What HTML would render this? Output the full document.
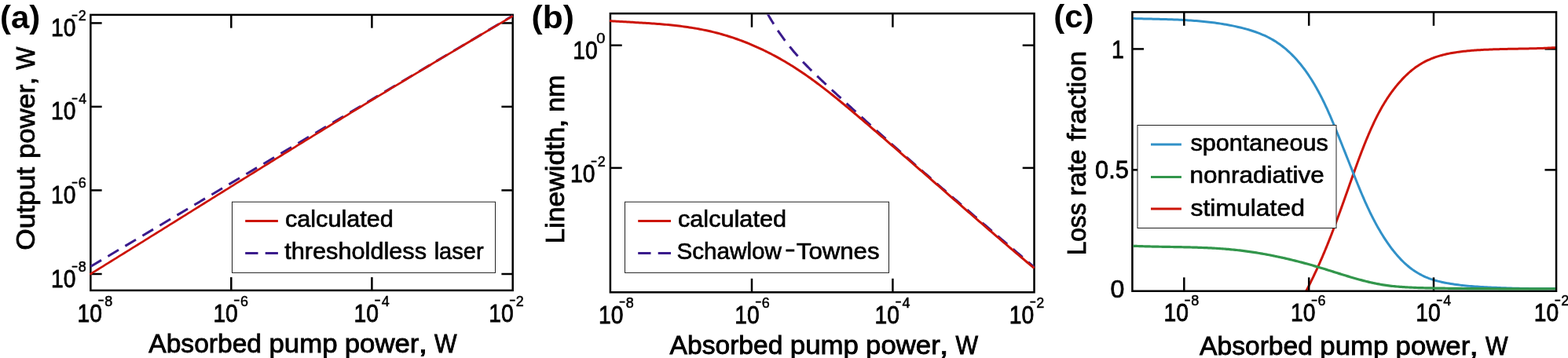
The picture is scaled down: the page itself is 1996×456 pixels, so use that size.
<!DOCTYPE html>
<html lang="en">
<head>
<meta charset="utf-8">
<title>Laser characteristics</title>
<style>
html,body{margin:0;padding:0;background:#fff;}
body{width:1996px;height:456px;overflow:hidden;}
svg{display:block;}
text{font-family:"Liberation Sans",sans-serif;fill:#000;}
</style>
</head>
<body>
<svg width="1996" height="456" viewBox="0 0 1996 456">
<rect x="0" y="0" width="1996" height="456" fill="#fff"/>
<clipPath id="ca"><rect x="114.10" y="17.65" width="539.85" height="353.50"/></clipPath>
<rect x="115.35" y="18.90" width="537.35" height="351.00" fill="none" stroke="#000" stroke-width="2.5"/>
<line x1="294.30" y1="369.90" x2="294.30" y2="353.10" stroke="#000" stroke-width="2.5" />
<line x1="294.30" y1="18.90" x2="294.30" y2="35.70" stroke="#000" stroke-width="2.5" />
<line x1="473.40" y1="369.90" x2="473.40" y2="353.10" stroke="#000" stroke-width="2.5" />
<line x1="473.40" y1="18.90" x2="473.40" y2="35.70" stroke="#000" stroke-width="2.5" />
<line x1="115.35" y1="29.40" x2="129.65" y2="29.40" stroke="#000" stroke-width="2.5" />
<line x1="652.70" y1="29.40" x2="638.40" y2="29.40" stroke="#000" stroke-width="2.5" />
<line x1="115.35" y1="135.90" x2="129.65" y2="135.90" stroke="#000" stroke-width="2.5" />
<line x1="652.70" y1="135.90" x2="638.40" y2="135.90" stroke="#000" stroke-width="2.5" />
<line x1="115.35" y1="242.40" x2="129.65" y2="242.40" stroke="#000" stroke-width="2.5" />
<line x1="652.70" y1="242.40" x2="638.40" y2="242.40" stroke="#000" stroke-width="2.5" />
<line x1="115.35" y1="349.00" x2="129.65" y2="349.00" stroke="#000" stroke-width="2.5" />
<line x1="652.70" y1="349.00" x2="638.40" y2="349.00" stroke="#000" stroke-width="2.5" />
<path d="M115.35,339.50 L652.70,20.10" fill="none" stroke="#3a1b8c" stroke-width="3.0" stroke-linejoin="round" stroke-dasharray="15.9 9.7" clip-path="url(#ca)" />
<path d="M114.35,349.51 L117.74,347.42 L121.12,345.33 L124.51,343.24 L127.89,341.14 L131.28,339.05 L134.67,336.95 L138.05,334.86 L141.44,332.76 L144.82,330.67 L148.21,328.57 L151.59,326.47 L154.98,324.37 L158.37,322.27 L161.75,320.16 L165.14,318.06 L168.52,315.96 L171.91,313.85 L175.30,311.75 L178.68,309.64 L182.07,307.54 L185.45,305.43 L188.84,303.32 L192.22,301.22 L195.61,299.11 L199.00,297.00 L202.38,294.89 L205.77,292.78 L209.15,290.67 L212.54,288.56 L215.93,286.45 L219.31,284.34 L222.70,282.23 L226.08,280.12 L229.47,278.01 L232.85,275.90 L236.24,273.79 L239.63,271.68 L243.01,269.57 L246.40,267.45 L249.78,265.34 L253.17,263.23 L256.56,261.12 L259.94,259.01 L263.33,256.90 L266.71,254.79 L270.10,252.68 L273.48,250.57 L276.87,248.46 L280.26,246.35 L283.64,244.24 L287.03,242.14 L290.41,240.03 L293.80,237.92 L297.19,235.82 L300.57,233.71 L303.96,231.60 L307.34,229.50 L310.73,227.40 L314.12,225.29 L317.50,223.19 L320.89,221.09 L324.27,218.99 L327.66,216.89 L331.04,214.79 L334.43,212.69 L337.82,210.59 L341.20,208.49 L344.59,206.39 L347.97,204.30 L351.36,202.20 L354.75,200.11 L358.13,198.01 L361.52,195.92 L364.90,193.83 L368.29,191.74 L371.67,189.65 L375.06,187.56 L378.45,185.47 L381.83,183.39 L385.22,181.30 L388.60,179.22 L391.99,177.13 L395.38,175.05 L398.76,172.97 L402.15,170.89 L405.53,168.81 L408.92,166.74 L412.30,164.66 L415.69,162.59 L419.08,160.51 L422.46,158.44 L425.85,156.37 L429.23,154.30 L432.62,152.23 L436.01,150.16 L439.39,148.10 L442.78,146.03 L446.16,143.97 L449.55,141.91 L452.93,139.85 L456.32,137.79 L459.71,135.74 L463.09,133.68 L466.48,131.63 L469.86,129.58 L473.25,127.52 L476.64,125.48 L480.02,123.43 L483.41,121.38 L486.79,119.34 L490.18,117.29 L493.57,115.25 L496.95,113.21 L500.34,111.17 L503.72,109.13 L507.11,107.09 L510.49,105.06 L513.88,103.02 L517.27,100.99 L520.65,98.95 L524.04,96.92 L527.42,94.89 L530.81,92.86 L534.20,90.84 L537.58,88.81 L540.97,86.78 L544.35,84.76 L547.74,82.73 L551.12,80.71 L554.51,78.69 L557.90,76.67 L561.28,74.65 L564.67,72.63 L568.05,70.61 L571.44,68.60 L574.83,66.58 L578.21,64.57 L581.60,62.55 L584.98,60.54 L588.37,58.53 L591.75,56.52 L595.14,54.50 L598.53,52.49 L601.91,50.49 L605.30,48.48 L608.68,46.47 L612.07,44.46 L615.46,42.46 L618.84,40.45 L622.23,38.45 L625.61,36.44 L629.00,34.44 L632.38,32.44 L635.77,30.44 L639.16,28.43 L642.54,26.43 L645.93,24.43 L649.31,22.43 L652.70,20.43" fill="none" stroke="#cc1408" stroke-width="2.7" stroke-linejoin="round" clip-path="url(#ca)" />
<rect x="295.50" y="257.20" width="335.00" height="90.20" fill="#fff" stroke="#222" stroke-width="1"/>
<line x1="312.20" y1="281.50" x2="353.90" y2="281.50" stroke="#cc1408" stroke-width="3.0" />
<line x1="312.20" y1="322.60" x2="353.90" y2="322.60" stroke="#3a1b8c" stroke-width="3.0" stroke-dasharray="16.3 9.2"/>
<clipPath id="cb"><rect x="775.65" y="18.45" width="542.10" height="355.10"/></clipPath>
<rect x="776.90" y="17.20" width="539.60" height="355.10" fill="none" stroke="#000" stroke-width="2.5"/>
<line x1="957.00" y1="372.30" x2="957.00" y2="354.80" stroke="#000" stroke-width="2.5" />
<line x1="957.00" y1="17.20" x2="957.00" y2="34.70" stroke="#000" stroke-width="2.5" />
<line x1="1136.40" y1="372.30" x2="1136.40" y2="354.80" stroke="#000" stroke-width="2.5" />
<line x1="1136.40" y1="17.20" x2="1136.40" y2="34.70" stroke="#000" stroke-width="2.5" />
<line x1="776.90" y1="57.70" x2="791.70" y2="57.70" stroke="#000" stroke-width="2.5" />
<line x1="1316.50" y1="57.70" x2="1301.70" y2="57.70" stroke="#000" stroke-width="2.5" />
<line x1="776.90" y1="213.90" x2="791.70" y2="213.90" stroke="#000" stroke-width="2.5" />
<line x1="1316.50" y1="213.90" x2="1301.70" y2="213.90" stroke="#000" stroke-width="2.5" />
<path d="M976.80,16.94 L978.22,19.46 L979.64,21.94 L981.06,24.37 L982.49,26.74 L983.91,29.07 L985.33,31.36 L986.75,33.60 L988.17,35.80 L989.59,37.95 L991.01,40.07 L992.43,42.15 L993.86,44.19 L995.28,46.19 L996.70,48.16 L998.12,50.09 L999.54,52.00 L1000.96,53.87 L1002.38,55.71 L1003.81,57.52 L1005.23,59.30 L1006.65,61.06 L1008.07,62.80 L1009.49,64.50 L1010.91,66.19 L1012.33,67.85 L1013.75,69.49 L1015.18,71.11 L1016.60,72.71 L1018.02,74.29 L1019.44,75.84 L1020.86,77.38 L1022.28,78.91 L1023.70,80.41 L1025.13,81.90 L1026.55,83.38 L1027.97,84.83 L1029.39,86.28 L1030.81,87.71 L1032.23,89.13 L1033.65,90.54 L1035.07,91.94 L1036.50,93.32 L1037.92,94.70 L1039.34,96.07 L1040.76,97.43 L1042.18,98.78 L1043.60,100.13 L1045.02,101.47 L1046.45,102.81 L1047.87,104.14 L1049.29,105.47 L1050.71,106.80 L1052.13,108.13 L1053.55,109.45 L1054.97,110.77 L1056.39,112.09 L1057.82,113.41 L1059.24,114.73 L1060.66,116.05 L1062.08,117.37 L1063.50,118.68 L1064.92,119.99 L1066.34,121.31 L1067.77,122.62 L1069.19,123.93 L1070.61,125.24 L1072.03,126.54 L1073.45,127.85 L1074.87,129.16 L1076.29,130.46 L1077.72,131.76 L1079.14,133.06 L1080.56,134.36 L1081.98,135.66 L1083.40,136.96 L1084.82,138.26 L1086.24,139.55 L1087.66,140.85 L1089.09,142.14 L1090.51,143.44 L1091.93,144.73 L1093.35,146.02 L1094.77,147.31 L1096.19,148.59 L1097.61,149.88 L1099.04,151.17 L1100.46,152.45 L1101.88,153.74 L1103.30,155.02 L1104.72,156.30 L1106.14,157.58 L1107.56,158.86 L1108.98,160.14 L1110.41,161.42 L1111.83,162.70 L1113.25,163.97 L1114.67,165.25 L1116.09,166.52 L1117.51,167.79 L1118.93,169.07 L1120.36,170.34 L1121.78,171.61 L1123.20,172.88 L1124.62,174.15 L1126.04,175.41 L1127.46,176.68 L1128.88,177.95 L1130.30,179.21 L1131.73,180.48 L1133.15,181.74 L1134.57,183.00 L1135.99,184.26 L1137.41,185.52 L1138.83,186.78 L1140.25,188.04 L1141.68,189.30 L1143.10,190.56 L1144.52,191.81 L1145.94,193.07 L1147.36,194.32 L1148.78,195.58 L1150.20,196.83 L1151.62,198.08 L1153.05,199.34 L1154.47,200.59 L1155.89,201.84 L1157.31,203.09 L1158.73,204.33 L1160.15,205.58 L1161.57,206.83 L1163.00,208.08 L1164.42,209.32 L1165.84,210.57 L1167.26,211.81 L1168.68,213.06 L1170.10,214.30 L1171.52,215.54 L1172.94,216.79 L1174.37,218.03 L1175.79,219.27 L1177.21,220.51 L1178.63,221.75 L1180.05,222.99 L1181.47,224.22 L1182.89,225.46 L1184.32,226.70 L1185.74,227.94 L1187.16,229.17 L1188.58,230.41 L1190.00,231.64 L1191.42,232.88 L1192.84,234.11 L1194.26,235.34 L1195.69,236.58 L1197.11,237.81 L1198.53,239.04 L1199.95,240.27 L1201.37,241.50 L1202.79,242.73 L1204.21,243.96 L1205.64,245.19 L1207.06,246.42 L1208.48,247.65 L1209.90,248.88 L1211.32,250.10 L1212.74,251.33 L1214.16,252.56 L1215.58,253.78 L1217.01,255.01 L1218.43,256.23 L1219.85,257.46 L1221.27,258.68 L1222.69,259.91 L1224.11,261.13 L1225.53,262.36 L1226.96,263.58 L1228.38,264.80 L1229.80,266.02 L1231.22,267.25 L1232.64,268.47 L1234.06,269.69 L1235.48,270.91 L1236.91,272.13 L1238.33,273.35 L1239.75,274.57 L1241.17,275.79 L1242.59,277.01 L1244.01,278.23 L1245.43,279.45 L1246.85,280.67 L1248.28,281.89 L1249.70,283.11 L1251.12,284.33 L1252.54,285.55 L1253.96,286.76 L1255.38,287.98 L1256.80,289.20 L1258.23,290.42 L1259.65,291.64 L1261.07,292.85 L1262.49,294.07 L1263.91,295.29 L1265.33,296.50 L1266.75,297.72 L1268.17,298.94 L1269.60,300.15 L1271.02,301.37 L1272.44,302.59 L1273.86,303.80 L1275.28,305.02 L1276.70,306.23 L1278.12,307.45 L1279.55,308.67 L1280.97,309.88 L1282.39,311.10 L1283.81,312.31 L1285.23,313.53 L1286.65,314.74 L1288.07,315.96 L1289.49,317.18 L1290.92,318.39 L1292.34,319.61 L1293.76,320.82 L1295.18,322.04 L1296.60,323.25 L1298.02,324.47 L1299.44,325.69 L1300.87,326.90 L1302.29,328.12 L1303.71,329.33 L1305.13,330.55 L1306.55,331.77 L1307.97,332.98 L1309.39,334.20 L1310.81,335.42 L1312.24,336.63 L1313.66,337.85 L1315.08,339.07 L1316.50,340.28" fill="none" stroke="#3a1b8c" stroke-width="3.0" stroke-linejoin="round" stroke-dasharray="15.9 9.7" clip-path="url(#cb)" />
<path d="M775.90,26.60 L778.16,26.75 L780.42,26.90 L782.69,27.04 L784.95,27.18 L787.21,27.32 L789.47,27.46 L791.73,27.59 L794.00,27.72 L796.26,27.85 L798.52,27.98 L800.78,28.11 L803.04,28.24 L805.31,28.37 L807.57,28.50 L809.83,28.63 L812.09,28.77 L814.35,28.90 L816.61,29.04 L818.88,29.18 L821.14,29.32 L823.40,29.46 L825.66,29.61 L827.92,29.76 L830.19,29.92 L832.45,30.08 L834.71,30.25 L836.97,30.42 L839.23,30.60 L841.50,30.78 L843.76,30.97 L846.02,31.17 L848.28,31.38 L850.54,31.59 L852.81,31.81 L855.07,32.05 L857.33,32.29 L859.59,32.53 L861.85,32.79 L864.12,33.06 L866.38,33.34 L868.64,33.63 L870.90,33.93 L873.16,34.25 L875.42,34.57 L877.69,34.91 L879.95,35.26 L882.21,35.62 L884.47,36.00 L886.73,36.39 L889.00,36.80 L891.26,37.22 L893.52,37.65 L895.78,38.10 L898.04,38.57 L900.31,39.05 L902.57,39.55 L904.83,40.07 L907.09,40.60 L909.35,41.16 L911.62,41.73 L913.88,42.32 L916.14,42.92 L918.40,43.55 L920.66,44.19 L922.93,44.85 L925.19,45.54 L927.45,46.23 L929.71,46.95 L931.97,47.69 L934.23,48.45 L936.50,49.22 L938.76,50.02 L941.02,50.83 L943.28,51.66 L945.54,52.51 L947.81,53.38 L950.07,54.27 L952.33,55.18 L954.59,56.11 L956.85,57.06 L959.12,58.03 L961.38,59.01 L963.64,60.02 L965.90,61.05 L968.16,62.09 L970.43,63.16 L972.69,64.24 L974.95,65.35 L977.21,66.47 L979.47,67.62 L981.74,68.78 L984.00,69.97 L986.26,71.17 L988.52,72.40 L990.78,73.64 L993.04,74.91 L995.31,76.20 L997.57,77.50 L999.83,78.83 L1002.09,80.18 L1004.35,81.55 L1006.62,82.93 L1008.88,84.34 L1011.14,85.77 L1013.40,87.23 L1015.66,88.70 L1017.93,90.19 L1020.19,91.70 L1022.45,93.24 L1024.71,94.79 L1026.97,96.37 L1029.24,97.96 L1031.50,99.58 L1033.76,101.21 L1036.02,102.86 L1038.28,104.52 L1040.55,106.21 L1042.81,107.91 L1045.07,109.62 L1047.33,111.35 L1049.59,113.10 L1051.85,114.86 L1054.12,116.63 L1056.38,118.42 L1058.64,120.22 L1060.90,122.03 L1063.16,123.85 L1065.43,125.68 L1067.69,127.52 L1069.95,129.38 L1072.21,131.24 L1074.47,133.11 L1076.74,134.99 L1079.00,136.87 L1081.26,138.77 L1083.52,140.67 L1085.78,142.57 L1088.05,144.48 L1090.31,146.40 L1092.57,148.32 L1094.83,150.25 L1097.09,152.17 L1099.36,154.11 L1101.62,156.04 L1103.88,157.97 L1106.14,159.91 L1108.40,161.85 L1110.66,163.79 L1112.93,165.74 L1115.19,167.68 L1117.45,169.63 L1119.71,171.58 L1121.97,173.53 L1124.24,175.48 L1126.50,177.43 L1128.76,179.39 L1131.02,181.34 L1133.28,183.30 L1135.55,185.26 L1137.81,187.22 L1140.07,189.18 L1142.33,191.15 L1144.59,193.11 L1146.86,195.08 L1149.12,197.04 L1151.38,199.01 L1153.64,200.98 L1155.90,202.95 L1158.17,204.92 L1160.43,206.89 L1162.69,208.86 L1164.95,210.83 L1167.21,212.80 L1169.47,214.77 L1171.74,216.75 L1174.00,218.72 L1176.26,220.69 L1178.52,222.67 L1180.78,224.64 L1183.05,226.62 L1185.31,228.59 L1187.57,230.57 L1189.83,232.54 L1192.09,234.52 L1194.36,236.49 L1196.62,238.47 L1198.88,240.44 L1201.14,242.42 L1203.40,244.39 L1205.67,246.37 L1207.93,248.34 L1210.19,250.31 L1212.45,252.29 L1214.71,254.26 L1216.98,256.23 L1219.24,258.20 L1221.50,260.17 L1223.76,262.14 L1226.02,264.11 L1228.28,266.08 L1230.55,268.04 L1232.81,270.01 L1235.07,271.98 L1237.33,273.94 L1239.59,275.90 L1241.86,277.86 L1244.12,279.82 L1246.38,281.78 L1248.64,283.74 L1250.90,285.70 L1253.17,287.65 L1255.43,289.60 L1257.69,291.56 L1259.95,293.51 L1262.21,295.45 L1264.48,297.40 L1266.74,299.35 L1269.00,301.29 L1271.26,303.23 L1273.52,305.17 L1275.79,307.11 L1278.05,309.04 L1280.31,310.98 L1282.57,312.91 L1284.83,314.84 L1287.09,316.76 L1289.36,318.69 L1291.62,320.61 L1293.88,322.53 L1296.14,324.44 L1298.40,326.36 L1300.67,328.27 L1302.93,330.18 L1305.19,332.09 L1307.45,333.99 L1309.71,335.89 L1311.98,337.79 L1314.24,339.68 L1316.50,341.58" fill="none" stroke="#cc1408" stroke-width="3.0" stroke-linejoin="round" clip-path="url(#cb)" />
<rect x="795.50" y="257.20" width="336.00" height="90.20" fill="#fff" stroke="#222" stroke-width="1"/>
<line x1="812.20" y1="281.50" x2="854.00" y2="281.50" stroke="#cc1408" stroke-width="3.0" />
<line x1="812.20" y1="322.60" x2="854.00" y2="322.60" stroke="#3a1b8c" stroke-width="3.0" stroke-dasharray="16.3 9.2"/>
<clipPath id="cc"><rect x="1442.45" y="15.40" width="537.55" height="356.60"/></clipPath>
<line x1="1981.05" y1="62.40" x2="1966.45" y2="62.40" stroke="#000" stroke-width="2.5" />
<line x1="1981.05" y1="216.40" x2="1966.45" y2="216.40" stroke="#000" stroke-width="2.5" />
<path d="M1660.34,375.08 L1661.16,373.55 L1661.98,372.02 L1662.79,370.48 L1663.59,368.95 L1664.39,367.42 L1665.18,365.88 L1665.96,364.35 L1666.74,362.81 L1667.51,361.27 L1668.28,359.74 L1669.04,358.20 L1669.80,356.66 L1670.55,355.12 L1671.29,353.58 L1672.03,352.04 L1672.77,350.50 L1673.50,348.96 L1674.22,347.42 L1674.94,345.87 L1675.66,344.33 L1676.37,342.78 L1677.07,341.24 L1677.77,339.69 L1678.47,338.15 L1679.16,336.60 L1679.85,335.05 L1680.53,333.50 L1681.21,331.95 L1681.89,330.40 L1682.56,328.85 L1683.23,327.29 L1683.89,325.74 L1684.55,324.18 L1685.21,322.63 L1685.86,321.07 L1686.51,319.52 L1687.16,317.96 L1687.80,316.40 L1688.44,314.84 L1689.08,313.28 L1689.71,311.72 L1690.34,310.15 L1690.97,308.59 L1691.59,307.02 L1692.21,305.46 L1692.83,303.89 L1693.45,302.33 L1694.06,300.76 L1694.67,299.19 L1695.28,297.62 L1695.89,296.04 L1696.49,294.47 L1697.09,292.90 L1697.69,291.32 L1698.29,289.75 L1698.89,288.17 L1699.48,286.59 L1700.07,285.01 L1700.66,283.43 L1701.25,281.85 L1701.84,280.27 L1702.42,278.69 L1703.00,277.10 L1703.59,275.52 L1704.17,273.93 L1704.75,272.34 L1705.33,270.75 L1705.90,269.16 L1706.48,267.57 L1707.05,265.98 L1707.63,264.38 L1708.20,262.79 L1708.78,261.19 L1709.35,259.59 L1709.92,257.99 L1710.49,256.39 L1711.06,254.79 L1711.63,253.19 L1712.20,251.58 L1712.77,249.98 L1713.34,248.37 L1713.91,246.76 L1714.48,245.16 L1715.05,243.54 L1715.62,241.93 L1716.19,240.32 L1716.76,238.70 L1717.33,237.09 L1717.90,235.47 L1718.47,233.85 L1719.04,232.23 L1719.62,230.62 L1720.19,228.99 L1720.77,227.37 L1721.34,225.75 L1721.92,224.13 L1722.50,222.51 L1723.08,220.89 L1723.66,219.27 L1724.24,217.64 L1724.82,216.02 L1725.41,214.40 L1726.00,212.78 L1726.59,211.16 L1727.18,209.54 L1727.77,207.92 L1728.37,206.30 L1728.96,204.69 L1729.56,203.07 L1730.17,201.46 L1730.77,199.84 L1731.38,198.23 L1731.99,196.62 L1732.60,195.02 L1733.22,193.41 L1733.84,191.81 L1734.46,190.20 L1735.09,188.60 L1735.72,187.01 L1736.35,185.41 L1736.98,183.82 L1737.62,182.23 L1738.26,180.64 L1738.91,179.05 L1739.56,177.47 L1740.22,175.89 L1740.87,174.32 L1741.54,172.75 L1742.20,171.18 L1742.87,169.61 L1743.55,168.05 L1744.23,166.50 L1744.92,164.94 L1745.61,163.39 L1746.30,161.85 L1747.01,160.30 L1747.71,158.77 L1748.43,157.24 L1749.15,155.71 L1749.88,154.18 L1750.61,152.67 L1751.36,151.15 L1752.11,149.64 L1752.86,148.14 L1753.63,146.64 L1754.41,145.15 L1755.19,143.66 L1755.98,142.18 L1756.78,140.70 L1757.59,139.23 L1758.41,137.77 L1759.24,136.31 L1760.08,134.86 L1760.93,133.41 L1761.79,131.97 L1762.66,130.54 L1763.54,129.11 L1764.44,127.69 L1765.34,126.28 L1766.26,124.87 L1767.18,123.48 L1768.13,122.08 L1769.08,120.70 L1770.04,119.32 L1771.02,117.95 L1772.02,116.59 L1773.02,115.24 L1774.04,113.89 L1775.07,112.55 L1776.12,111.22 L1777.18,109.90 L1778.26,108.59 L1779.35,107.28 L1780.46,105.99 L1781.58,104.70 L1782.72,103.42 L1783.87,102.15 L1785.04,100.89 L1786.22,99.65 L1787.42,98.42 L1788.64,97.20 L1789.87,96.00 L1791.12,94.82 L1792.38,93.65 L1793.65,92.50 L1794.95,91.37 L1796.25,90.27 L1797.57,89.19 L1798.91,88.12 L1800.26,87.09 L1801.63,86.08 L1803.01,85.09 L1804.41,84.14 L1805.82,83.20 L1807.24,82.30 L1808.68,81.42 L1810.13,80.56 L1811.60,79.74 L1813.08,78.94 L1814.57,78.17 L1816.07,77.42 L1817.58,76.70 L1819.11,76.01 L1820.65,75.35 L1822.20,74.71 L1823.76,74.10 L1825.32,73.51 L1826.90,72.94 L1828.49,72.40 L1830.09,71.88 L1831.70,71.38 L1833.31,70.90 L1834.94,70.45 L1836.57,70.01 L1838.21,69.60 L1839.85,69.20 L1841.50,68.82 L1843.16,68.46 L1844.83,68.12 L1846.50,67.79 L1848.18,67.48 L1849.86,67.19 L1851.55,66.91 L1853.24,66.65 L1854.93,66.39 L1856.63,66.16 L1858.33,65.93 L1860.04,65.72 L1861.75,65.51 L1863.46,65.32 L1865.17,65.14 L1866.88,64.97 L1868.60,64.81 L1870.32,64.65 L1872.03,64.51 L1873.75,64.37 L1875.47,64.23 L1877.19,64.11 L1878.90,63.99 L1880.62,63.87 L1882.33,63.76 L1884.05,63.66 L1885.76,63.56 L1887.48,63.46 L1889.19,63.37 L1890.91,63.29 L1892.62,63.21 L1894.33,63.13 L1896.04,63.06 L1897.75,62.99 L1899.46,62.92 L1901.17,62.86 L1902.88,62.80 L1904.59,62.75 L1906.30,62.69 L1908.01,62.64 L1909.72,62.60 L1911.42,62.55 L1913.13,62.51 L1914.83,62.47 L1916.54,62.43 L1918.24,62.39 L1919.95,62.36 L1921.65,62.32 L1923.35,62.29 L1925.06,62.26 L1926.76,62.22 L1928.46,62.19 L1930.16,62.16 L1931.86,62.13 L1933.56,62.10 L1935.26,62.07 L1936.95,62.04 L1938.65,62.01 L1940.35,61.98 L1942.04,61.95 L1943.74,61.92 L1945.43,61.88 L1947.13,61.85 L1948.82,61.81 L1950.51,61.77 L1952.20,61.73 L1953.89,61.69 L1955.58,61.64 L1957.27,61.60 L1958.96,61.55 L1960.65,61.49 L1962.34,61.44 L1964.03,61.38 L1965.71,61.32 L1967.40,61.26 L1969.08,61.19 L1970.77,61.11 L1972.45,61.04 L1974.13,60.96 L1975.81,60.87 L1977.50,60.79 L1979.18,60.69 L1980.86,60.59" fill="none" stroke="#cc1408" stroke-width="3.0" stroke-linejoin="round" clip-path="url(#cc)" />
<path d="M1441.38,23.51 L1443.79,23.58 L1446.21,23.64 L1448.62,23.71 L1451.03,23.76 L1453.44,23.82 L1455.85,23.88 L1458.26,23.93 L1460.66,23.99 L1463.07,24.04 L1465.47,24.10 L1467.88,24.15 L1470.28,24.21 L1472.68,24.26 L1475.08,24.32 L1477.48,24.39 L1479.87,24.45 L1482.27,24.52 L1484.66,24.59 L1487.06,24.66 L1489.45,24.74 L1491.84,24.83 L1494.23,24.92 L1496.62,25.01 L1499.01,25.12 L1501.40,25.23 L1503.79,25.34 L1506.18,25.46 L1508.56,25.59 L1510.95,25.73 L1513.33,25.88 L1515.71,26.04 L1518.10,26.20 L1520.48,26.38 L1522.86,26.57 L1525.24,26.76 L1527.62,26.97 L1530.00,27.19 L1532.38,27.43 L1534.76,27.67 L1537.14,27.93 L1539.51,28.20 L1541.89,28.49 L1544.27,28.79 L1546.64,29.10 L1549.02,29.43 L1551.39,29.77 L1553.77,30.13 L1556.14,30.51 L1558.51,30.90 L1560.89,31.31 L1563.26,31.74 L1565.63,32.19 L1568.00,32.65 L1570.38,33.14 L1572.75,33.64 L1575.12,34.16 L1577.48,34.71 L1579.85,35.28 L1582.20,35.87 L1584.55,36.48 L1586.89,37.13 L1589.22,37.80 L1591.55,38.49 L1593.85,39.22 L1596.15,39.98 L1598.43,40.77 L1600.69,41.59 L1602.94,42.44 L1605.17,43.33 L1607.37,44.26 L1609.56,45.22 L1611.72,46.23 L1613.86,47.27 L1615.98,48.35 L1618.06,49.47 L1620.12,50.63 L1622.15,51.84 L1624.15,53.09 L1626.12,54.39 L1628.06,55.72 L1629.98,57.09 L1631.86,58.51 L1633.72,59.96 L1635.55,61.45 L1637.36,62.97 L1639.13,64.53 L1640.89,66.12 L1642.61,67.74 L1644.31,69.40 L1645.98,71.09 L1647.63,72.81 L1649.26,74.56 L1650.85,76.33 L1652.43,78.14 L1653.98,79.97 L1655.51,81.82 L1657.01,83.70 L1658.49,85.61 L1659.95,87.53 L1661.39,89.48 L1662.80,91.45 L1664.19,93.43 L1665.56,95.44 L1666.91,97.46 L1668.24,99.50 L1669.55,101.56 L1670.83,103.63 L1672.10,105.71 L1673.35,107.81 L1674.58,109.91 L1675.79,112.03 L1676.98,114.16 L1678.15,116.30 L1679.30,118.45 L1680.44,120.60 L1681.56,122.76 L1682.66,124.92 L1683.74,127.09 L1684.81,129.26 L1685.86,131.43 L1686.90,133.61 L1687.92,135.79 L1688.93,137.97 L1689.92,140.15 L1690.91,142.34 L1691.88,144.53 L1692.84,146.72 L1693.79,148.91 L1694.73,151.11 L1695.67,153.31 L1696.59,155.50 L1697.51,157.71 L1698.42,159.91 L1699.33,162.11 L1700.23,164.32 L1701.13,166.53 L1702.03,168.74 L1702.92,170.95 L1703.81,173.17 L1704.71,175.38 L1705.59,177.60 L1706.48,179.81 L1707.37,182.03 L1708.26,184.25 L1709.15,186.47 L1710.03,188.70 L1710.92,190.92 L1711.80,193.14 L1712.69,195.37 L1713.57,197.59 L1714.46,199.82 L1715.34,202.04 L1716.22,204.27 L1717.11,206.50 L1717.99,208.73 L1718.87,210.96 L1719.76,213.18 L1720.64,215.41 L1721.53,217.64 L1722.41,219.87 L1723.30,222.10 L1724.18,224.33 L1725.07,226.56 L1725.96,228.78 L1726.86,231.01 L1727.75,233.23 L1728.66,235.46 L1729.56,237.68 L1730.47,239.90 L1731.39,242.11 L1732.31,244.32 L1733.24,246.53 L1734.18,248.74 L1735.13,250.94 L1736.08,253.14 L1737.04,255.34 L1738.01,257.53 L1738.99,259.72 L1739.98,261.90 L1740.99,264.07 L1742.00,266.24 L1743.03,268.41 L1744.06,270.57 L1745.11,272.72 L1746.18,274.87 L1747.26,277.01 L1748.35,279.15 L1749.46,281.27 L1750.58,283.39 L1751.72,285.50 L1752.88,287.61 L1754.05,289.70 L1755.25,291.79 L1756.46,293.87 L1757.68,295.94 L1758.93,298.00 L1760.20,300.05 L1761.49,302.09 L1762.80,304.12 L1764.13,306.14 L1765.48,308.15 L1766.86,310.15 L1768.26,312.14 L1769.68,314.11 L1771.12,316.06 L1772.60,317.99 L1774.09,319.91 L1775.62,321.80 L1777.17,323.66 L1778.74,325.50 L1780.35,327.31 L1781.98,329.09 L1783.65,330.84 L1785.34,332.55 L1787.06,334.22 L1788.82,335.86 L1790.60,337.45 L1792.42,339.00 L1794.27,340.51 L1796.15,341.97 L1798.07,343.38 L1800.03,344.74 L1802.01,346.05 L1804.04,347.31 L1806.09,348.51 L1808.18,349.65 L1810.29,350.75 L1812.44,351.78 L1814.60,352.76 L1816.80,353.69 L1819.01,354.56 L1821.25,355.37 L1823.50,356.12 L1825.78,356.82 L1828.07,357.48 L1830.37,358.09 L1832.69,358.66 L1835.02,359.19 L1837.36,359.69 L1839.70,360.16 L1842.06,360.61 L1844.41,361.03 L1846.78,361.43 L1849.15,361.81 L1851.52,362.17 L1853.90,362.51 L1856.29,362.83 L1858.67,363.13 L1861.07,363.41 L1863.46,363.67 L1865.86,363.92 L1868.26,364.16 L1870.66,364.38 L1873.07,364.58 L1875.48,364.77 L1877.88,364.95 L1880.29,365.12 L1882.70,365.28 L1885.12,365.43 L1887.53,365.57 L1889.94,365.70 L1892.35,365.82 L1894.76,365.94 L1897.17,366.05 L1899.58,366.16 L1901.98,366.26 L1904.39,366.36 L1906.79,366.45 L1909.19,366.55 L1911.59,366.64 L1913.98,366.73 L1916.37,366.81 L1918.77,366.90 L1921.16,366.98 L1923.55,367.06 L1925.93,367.13 L1928.32,367.21 L1930.71,367.28 L1933.09,367.34 L1935.48,367.40 L1937.86,367.46 L1940.25,367.51 L1942.64,367.56 L1945.03,367.61 L1947.41,367.65 L1949.80,367.69 L1952.19,367.72 L1954.59,367.74 L1956.98,367.76 L1959.38,367.78 L1961.78,367.79 L1964.18,367.79 L1966.58,367.79 L1968.99,367.79 L1971.40,367.77 L1973.81,367.75 L1976.23,367.73 L1978.65,367.70 L1981.08,367.66" fill="none" stroke="#3191c8" stroke-width="3.0" stroke-linejoin="round" clip-path="url(#cc)" />
<rect x="1441.40" y="15.40" width="539.65" height="355.35" fill="none" stroke="#000" stroke-width="2.5"/>
<line x1="1507.30" y1="370.75" x2="1507.30" y2="353.35" stroke="#000" stroke-width="2.5" />
<line x1="1507.30" y1="15.40" x2="1507.30" y2="32.80" stroke="#000" stroke-width="2.5" />
<line x1="1666.20" y1="370.75" x2="1666.20" y2="353.35" stroke="#000" stroke-width="2.5" />
<line x1="1666.20" y1="15.40" x2="1666.20" y2="32.80" stroke="#000" stroke-width="2.5" />
<line x1="1825.00" y1="370.75" x2="1825.00" y2="353.35" stroke="#000" stroke-width="2.5" />
<line x1="1825.00" y1="15.40" x2="1825.00" y2="32.80" stroke="#000" stroke-width="2.5" />
<line x1="1441.40" y1="62.40" x2="1456.00" y2="62.40" stroke="#000" stroke-width="2.5" />
<line x1="1441.40" y1="216.40" x2="1456.00" y2="216.40" stroke="#000" stroke-width="2.5" />
<path d="M1441.23,313.20 L1443.07,313.28 L1444.91,313.36 L1446.75,313.43 L1448.59,313.50 L1450.43,313.57 L1452.27,313.63 L1454.11,313.69 L1455.95,313.75 L1457.79,313.80 L1459.63,313.86 L1461.46,313.91 L1463.30,313.95 L1465.14,314.00 L1466.97,314.04 L1468.81,314.08 L1470.64,314.12 L1472.48,314.16 L1474.31,314.20 L1476.15,314.23 L1477.98,314.27 L1479.81,314.30 L1481.64,314.33 L1483.48,314.37 L1485.31,314.40 L1487.14,314.43 L1488.97,314.46 L1490.80,314.49 L1492.63,314.52 L1494.46,314.55 L1496.28,314.59 L1498.11,314.62 L1499.94,314.65 L1501.77,314.69 L1503.59,314.72 L1505.42,314.76 L1507.24,314.79 L1509.07,314.83 L1510.89,314.87 L1512.72,314.92 L1514.54,314.96 L1516.36,315.01 L1518.18,315.06 L1520.01,315.11 L1521.83,315.16 L1523.65,315.22 L1525.47,315.28 L1527.29,315.34 L1529.10,315.41 L1530.92,315.48 L1532.74,315.55 L1534.56,315.62 L1536.37,315.70 L1538.19,315.79 L1540.01,315.88 L1541.82,315.97 L1543.64,316.07 L1545.45,316.17 L1547.26,316.27 L1549.08,316.38 L1550.89,316.50 L1552.70,316.62 L1554.51,316.75 L1556.32,316.88 L1558.13,317.02 L1559.94,317.16 L1561.75,317.31 L1563.56,317.46 L1565.36,317.62 L1567.17,317.79 L1568.98,317.97 L1570.78,318.15 L1572.59,318.34 L1574.39,318.53 L1576.19,318.73 L1578.00,318.94 L1579.80,319.15 L1581.60,319.37 L1583.40,319.60 L1585.20,319.84 L1587.00,320.08 L1588.80,320.33 L1590.60,320.58 L1592.40,320.84 L1594.20,321.11 L1595.99,321.38 L1597.79,321.66 L1599.59,321.94 L1601.38,322.24 L1603.17,322.53 L1604.97,322.84 L1606.76,323.15 L1608.55,323.46 L1610.35,323.79 L1612.14,324.11 L1613.93,324.45 L1615.72,324.79 L1617.50,325.13 L1619.29,325.49 L1621.08,325.84 L1622.87,326.21 L1624.65,326.58 L1626.44,326.95 L1628.22,327.33 L1630.01,327.72 L1631.79,328.11 L1633.57,328.51 L1635.36,328.91 L1637.14,329.32 L1638.92,329.73 L1640.70,330.15 L1642.48,330.58 L1644.26,331.01 L1646.03,331.44 L1647.81,331.88 L1649.59,332.33 L1651.36,332.78 L1653.14,333.24 L1654.91,333.70 L1656.68,334.16 L1658.46,334.64 L1660.23,335.11 L1662.00,335.59 L1663.77,336.08 L1665.54,336.57 L1667.31,337.07 L1669.08,337.57 L1670.84,338.08 L1672.61,338.59 L1674.38,339.10 L1676.14,339.62 L1677.91,340.15 L1679.67,340.68 L1681.43,341.21 L1683.20,341.75 L1684.96,342.29 L1686.72,342.83 L1688.48,343.38 L1690.24,343.93 L1692.00,344.48 L1693.76,345.03 L1695.52,345.58 L1697.27,346.14 L1699.03,346.69 L1700.79,347.24 L1702.55,347.80 L1704.31,348.35 L1706.06,348.90 L1707.82,349.44 L1709.58,349.99 L1711.33,350.53 L1713.09,351.07 L1714.85,351.60 L1716.61,352.14 L1718.36,352.66 L1720.12,353.18 L1721.88,353.70 L1723.64,354.21 L1725.40,354.71 L1727.16,355.21 L1728.92,355.70 L1730.68,356.18 L1732.44,356.66 L1734.20,357.12 L1735.96,357.58 L1737.72,358.03 L1739.49,358.47 L1741.25,358.90 L1743.02,359.32 L1744.78,359.73 L1746.55,360.12 L1748.32,360.51 L1750.09,360.88 L1751.86,361.24 L1753.63,361.59 L1755.40,361.92 L1757.17,362.24 L1758.95,362.55 L1760.72,362.84 L1762.50,363.11 L1764.28,363.38 L1766.06,363.62 L1767.84,363.86 L1769.62,364.08 L1771.40,364.29 L1773.19,364.49 L1774.98,364.67 L1776.76,364.85 L1778.55,365.01 L1780.35,365.17 L1782.14,365.31 L1783.94,365.45 L1785.73,365.57 L1787.53,365.69 L1789.33,365.80 L1791.14,365.91 L1792.94,366.01 L1794.75,366.10 L1796.56,366.18 L1798.37,366.26 L1800.18,366.34 L1802.00,366.41 L1803.82,366.48 L1805.64,366.54 L1807.46,366.60 L1809.29,366.66 L1811.11,366.71 L1812.94,366.76 L1814.77,366.81 L1816.60,366.85 L1818.43,366.89 L1820.26,366.93 L1822.09,366.97 L1823.93,367.00 L1825.76,367.04 L1827.60,367.07 L1829.43,367.10 L1831.27,367.12 L1833.10,367.15 L1834.94,367.17 L1836.78,367.20 L1838.61,367.22 L1840.45,367.24 L1842.29,367.27 L1844.12,367.29 L1845.96,367.31 L1847.79,367.33 L1849.63,367.35 L1851.46,367.37 L1853.30,367.39 L1855.13,367.41 L1856.96,367.43 L1858.80,367.45 L1860.63,367.47 L1862.46,367.48 L1864.30,367.50 L1866.13,367.52 L1867.96,367.53 L1869.79,367.55 L1871.62,367.56 L1873.45,367.58 L1875.29,367.59 L1877.12,367.61 L1878.95,367.62 L1880.78,367.63 L1882.61,367.65 L1884.44,367.66 L1886.27,367.67 L1888.09,367.68 L1889.92,367.69 L1891.75,367.70 L1893.58,367.71 L1895.41,367.72 L1897.23,367.73 L1899.06,367.74 L1900.89,367.75 L1902.72,367.76 L1904.54,367.76 L1906.37,367.77 L1908.19,367.78 L1910.02,367.79 L1911.85,367.79 L1913.67,367.80 L1915.49,367.80 L1917.32,367.81 L1919.14,367.81 L1920.97,367.81 L1922.79,367.82 L1924.61,367.82 L1926.44,367.82 L1928.26,367.83 L1930.08,367.83 L1931.90,367.83 L1933.73,367.83 L1935.55,367.83 L1937.37,367.83 L1939.19,367.83 L1941.01,367.83 L1942.83,367.83 L1944.65,367.83 L1946.47,367.83 L1948.29,367.83 L1950.11,367.82 L1951.93,367.82 L1953.75,367.82 L1955.57,367.81 L1957.38,367.81 L1959.20,367.81 L1961.02,367.80 L1962.84,367.80 L1964.65,367.79 L1966.47,367.78 L1968.29,367.78 L1970.10,367.77 L1971.92,367.76 L1973.73,367.76 L1975.55,367.75 L1977.36,367.74 L1979.18,367.73 L1980.99,367.73" fill="none" stroke="#32964b" stroke-width="3.2" stroke-linejoin="round" clip-path="url(#cc)" />
<rect x="1448.00" y="159.50" width="253.00" height="131.00" fill="#fff" stroke="#222" stroke-width="1"/>
<line x1="1465.00" y1="184.00" x2="1503.90" y2="184.00" stroke="#3191c8" stroke-width="3.0" />
<line x1="1465.00" y1="225.40" x2="1503.90" y2="225.40" stroke="#32964b" stroke-width="3.0" />
<line x1="1465.00" y1="266.00" x2="1503.90" y2="266.00" stroke="#cc1408" stroke-width="3.0" />
<text transform="translate(362.92,289.10) scale(1.0565,1)" font-size="29.0" stroke="#000" stroke-width="0.632">calculated</text>
<g><text transform="translate(362.16,330.20) scale(1.0588,1)" font-size="29.0" stroke="#000" stroke-width="0.631">thresholdless</text> <text transform="translate(552.67,330.20) scale(1.0003,1)" font-size="29.0" stroke="#000" stroke-width="0.650">laser</text></g>
<text transform="translate(-0.10,36.20) scale(1.0141,1)" font-size="41.4" font-weight="bold">(a)</text>
<g><text transform="translate(65.12,46.05) scale(0.8936,1)" font-size="31.6" stroke="#000" stroke-width="0.792">10</text><text transform="translate(90.80,24.59) scale(1.4107,1)" font-size="18.3" stroke="#000" stroke-width="0.415">-</text><text transform="translate(99.65,25.95) scale(0.9800,1)" font-size="18.3" stroke="#000" stroke-width="0.505">2</text></g>
<g><text transform="translate(65.12,152.00) scale(0.8936,1)" font-size="31.6" stroke="#000" stroke-width="0.792">10</text><text transform="translate(90.80,130.54) scale(1.4107,1)" font-size="18.3" stroke="#000" stroke-width="0.415">-</text><text transform="translate(100.14,131.90) scale(0.9800,1)" font-size="18.3" stroke="#000" stroke-width="0.505">4</text></g>
<g><text transform="translate(65.12,259.00) scale(0.8936,1)" font-size="31.6" stroke="#000" stroke-width="0.792">10</text><text transform="translate(90.80,237.54) scale(1.4107,1)" font-size="18.3" stroke="#000" stroke-width="0.415">-</text><text transform="translate(99.64,238.90) scale(0.9800,1)" font-size="18.3" stroke="#000" stroke-width="0.505">6</text></g>
<g><text transform="translate(65.12,366.00) scale(0.8936,1)" font-size="31.6" stroke="#000" stroke-width="0.792">10</text><text transform="translate(90.80,344.54) scale(1.4107,1)" font-size="18.3" stroke="#000" stroke-width="0.415">-</text><text transform="translate(99.77,345.90) scale(0.9800,1)" font-size="18.3" stroke="#000" stroke-width="0.505">8</text></g>
<g><text transform="translate(98.52,409.80) scale(0.8936,1)" font-size="31.6" stroke="#000" stroke-width="0.792">10</text><text transform="translate(124.20,388.34) scale(1.4107,1)" font-size="18.3" stroke="#000" stroke-width="0.415">-</text><text transform="translate(133.17,389.70) scale(0.9800,1)" font-size="18.3" stroke="#000" stroke-width="0.505">8</text></g>
<g><text transform="translate(271.42,409.80) scale(0.8936,1)" font-size="31.6" stroke="#000" stroke-width="0.792">10</text><text transform="translate(297.10,388.34) scale(1.4107,1)" font-size="18.3" stroke="#000" stroke-width="0.415">-</text><text transform="translate(305.94,389.70) scale(0.9800,1)" font-size="18.3" stroke="#000" stroke-width="0.505">6</text></g>
<g><text transform="translate(450.62,409.80) scale(0.8936,1)" font-size="31.6" stroke="#000" stroke-width="0.792">10</text><text transform="translate(476.30,388.34) scale(1.4107,1)" font-size="18.3" stroke="#000" stroke-width="0.415">-</text><text transform="translate(485.64,389.70) scale(0.9800,1)" font-size="18.3" stroke="#000" stroke-width="0.505">4</text></g>
<g><text transform="translate(622.32,409.80) scale(0.8936,1)" font-size="31.6" stroke="#000" stroke-width="0.792">10</text><text transform="translate(648.00,388.34) scale(1.4107,1)" font-size="18.3" stroke="#000" stroke-width="0.415">-</text><text transform="translate(656.85,389.70) scale(0.9800,1)" font-size="18.3" stroke="#000" stroke-width="0.505">2</text></g>
<g><text transform="translate(189.30,448.90) scale(0.9935,1)" font-size="33.8" stroke="#000" stroke-width="0.853">Absorbed</text> <text transform="translate(342.47,448.90) scale(1.0312,1)" font-size="33.8" stroke="#000" stroke-width="0.837">pump</text> <text transform="translate(438.78,448.90) scale(1.0282,1)" font-size="33.8" stroke="#000" stroke-width="0.838">power</text><text transform="translate(532.38,448.90) scale(1.2595,1)" font-size="33.8" stroke="#000" stroke-width="0.752">,</text> <text transform="translate(553.08,448.90) scale(0.8942,1)" font-size="33.8" stroke="#000" stroke-width="0.897">W</text></g>
<g><text transform="translate(43.80,318.65) rotate(-90) scale(1.0417,1)" font-size="33.8" stroke="#000" stroke-width="0.833">Output</text> <text transform="translate(43.80,202.12) rotate(-90) scale(1.0260,1)" font-size="33.8" stroke="#000" stroke-width="0.839">power</text><text transform="translate(43.80,108.53) rotate(-90) scale(1.1351,1)" font-size="33.8" stroke="#000" stroke-width="0.796">,</text> <text transform="translate(43.80,88.63) rotate(-90) scale(0.9132,1)" font-size="33.8" stroke="#000" stroke-width="0.889">W</text></g>
<text transform="translate(862.92,289.10) scale(1.0581,1)" font-size="29.0" stroke="#000" stroke-width="0.632">calculated</text>
<g><text transform="translate(861.45,330.20) scale(1.0231,1)" font-size="29.0" stroke="#000" stroke-width="0.643">Schawlow</text><text transform="translate(1000.73,327.06) scale(0.6360,1)" font-size="29.0" stroke="#000" stroke-width="0.795">–</text><text transform="translate(1013.82,330.20) scale(1.0756,1)" font-size="29.0" stroke="#000" stroke-width="0.626">Townes</text></g>
<text transform="translate(676.47,35.50) scale(1.0383,1)" font-size="41.0" font-weight="bold">(b)</text>
<g><text transform="translate(729.32,74.60) scale(0.8936,1)" font-size="31.6" stroke="#000" stroke-width="0.792">10</text><text transform="translate(759.36,54.50) scale(1.1000,1)" font-size="18.3" stroke="#000" stroke-width="0.476">0</text></g>
<g><text transform="translate(726.12,232.00) scale(0.8936,1)" font-size="31.6" stroke="#000" stroke-width="0.792">10</text><text transform="translate(751.80,210.54) scale(1.4107,1)" font-size="18.3" stroke="#000" stroke-width="0.415">-</text><text transform="translate(760.65,211.90) scale(0.9800,1)" font-size="18.3" stroke="#000" stroke-width="0.505">2</text></g>
<g><text transform="translate(762.02,411.60) scale(0.8936,1)" font-size="31.6" stroke="#000" stroke-width="0.792">10</text><text transform="translate(787.70,390.14) scale(1.4107,1)" font-size="18.3" stroke="#000" stroke-width="0.415">-</text><text transform="translate(796.67,391.50) scale(0.9800,1)" font-size="18.3" stroke="#000" stroke-width="0.505">8</text></g>
<g><text transform="translate(935.22,411.60) scale(0.8936,1)" font-size="31.6" stroke="#000" stroke-width="0.792">10</text><text transform="translate(960.90,390.14) scale(1.4107,1)" font-size="18.3" stroke="#000" stroke-width="0.415">-</text><text transform="translate(969.74,391.50) scale(0.9800,1)" font-size="18.3" stroke="#000" stroke-width="0.505">6</text></g>
<g><text transform="translate(1113.52,411.60) scale(0.8936,1)" font-size="31.6" stroke="#000" stroke-width="0.792">10</text><text transform="translate(1139.20,390.14) scale(1.4107,1)" font-size="18.3" stroke="#000" stroke-width="0.415">-</text><text transform="translate(1148.54,391.50) scale(0.9800,1)" font-size="18.3" stroke="#000" stroke-width="0.505">4</text></g>
<g><text transform="translate(1284.72,411.60) scale(0.8936,1)" font-size="31.6" stroke="#000" stroke-width="0.792">10</text><text transform="translate(1310.40,390.14) scale(1.4107,1)" font-size="18.3" stroke="#000" stroke-width="0.415">-</text><text transform="translate(1319.25,391.50) scale(0.9800,1)" font-size="18.3" stroke="#000" stroke-width="0.505">2</text></g>
<g><text transform="translate(852.60,451.30) scale(0.9935,1)" font-size="33.8" stroke="#000" stroke-width="0.853">Absorbed</text> <text transform="translate(1005.77,451.30) scale(1.0312,1)" font-size="33.8" stroke="#000" stroke-width="0.837">pump</text> <text transform="translate(1102.08,451.30) scale(1.0282,1)" font-size="33.8" stroke="#000" stroke-width="0.838">power</text><text transform="translate(1195.68,451.30) scale(1.2595,1)" font-size="33.8" stroke="#000" stroke-width="0.752">,</text> <text transform="translate(1216.38,451.30) scale(0.8942,1)" font-size="33.8" stroke="#000" stroke-width="0.897">W</text></g>
<g><text transform="translate(717.90,310.47) rotate(-90) scale(1.0422,1)" font-size="33.8" stroke="#000" stroke-width="0.832">Linewidth</text><text transform="translate(717.90,163.22) rotate(-90) scale(1.2906,1)" font-size="33.8" stroke="#000" stroke-width="0.742">,</text> <text transform="translate(717.90,142.85) rotate(-90) scale(1.0089,1)" font-size="33.8" stroke="#000" stroke-width="0.846">nm</text></g>
<text transform="translate(1515.54,191.60) scale(1.0550,1)" font-size="29.0" stroke="#000" stroke-width="0.633">spontaneous</text>
<text transform="translate(1514.53,232.60) scale(1.0844,1)" font-size="29.0" stroke="#000" stroke-width="0.624">nonradiative</text>
<text transform="translate(1515.51,275.20) scale(1.1005,1)" font-size="29.0" stroke="#000" stroke-width="0.619">stimulated</text>
<text transform="translate(1341.20,34.70) scale(1.0240,1)" font-size="41.0" font-weight="bold">(c)</text>
<text transform="translate(1415.01,73.60) scale(0.9000,1)" font-size="31.6" stroke="#000" stroke-width="0.789">1</text>
<text transform="translate(1394.08,226.50) scale(0.9709,1)" font-size="31.6" stroke="#000" stroke-width="0.761">0.5</text>
<text transform="translate(1413.52,379.00) scale(1.0164,1)" font-size="31.6" stroke="#000" stroke-width="0.744">0</text>
<g><text transform="translate(1481.52,409.40) scale(0.8936,1)" font-size="31.6" stroke="#000" stroke-width="0.792">10</text><text transform="translate(1507.20,387.94) scale(1.4107,1)" font-size="18.3" stroke="#000" stroke-width="0.415">-</text><text transform="translate(1516.17,389.30) scale(0.9800,1)" font-size="18.3" stroke="#000" stroke-width="0.505">8</text></g>
<g><text transform="translate(1643.02,409.40) scale(0.8936,1)" font-size="31.6" stroke="#000" stroke-width="0.792">10</text><text transform="translate(1668.70,387.94) scale(1.4107,1)" font-size="18.3" stroke="#000" stroke-width="0.415">-</text><text transform="translate(1677.54,389.30) scale(0.9800,1)" font-size="18.3" stroke="#000" stroke-width="0.505">6</text></g>
<g><text transform="translate(1802.32,409.40) scale(0.8936,1)" font-size="31.6" stroke="#000" stroke-width="0.792">10</text><text transform="translate(1828.00,387.94) scale(1.4107,1)" font-size="18.3" stroke="#000" stroke-width="0.415">-</text><text transform="translate(1837.34,389.30) scale(0.9800,1)" font-size="18.3" stroke="#000" stroke-width="0.505">4</text></g>
<g><text transform="translate(1952.82,409.40) scale(0.8936,1)" font-size="31.6" stroke="#000" stroke-width="0.792">10</text><text transform="translate(1978.50,387.94) scale(1.4107,1)" font-size="18.3" stroke="#000" stroke-width="0.415">-</text><text transform="translate(1987.35,389.30) scale(0.9800,1)" font-size="18.3" stroke="#000" stroke-width="0.505">2</text></g>
<g><text transform="translate(1527.10,451.50) scale(0.9935,1)" font-size="33.8" stroke="#000" stroke-width="0.853">Absorbed</text> <text transform="translate(1680.27,451.50) scale(1.0312,1)" font-size="33.8" stroke="#000" stroke-width="0.837">pump</text> <text transform="translate(1776.58,451.50) scale(1.0282,1)" font-size="33.8" stroke="#000" stroke-width="0.838">power</text><text transform="translate(1870.18,451.50) scale(1.2595,1)" font-size="33.8" stroke="#000" stroke-width="0.752">,</text> <text transform="translate(1890.88,451.50) scale(0.8942,1)" font-size="33.8" stroke="#000" stroke-width="0.897">W</text></g>
<g><text transform="translate(1381.80,325.37) rotate(-90) scale(0.9369,1)" font-size="33.8" stroke="#000" stroke-width="0.878">Loss</text> <text transform="translate(1381.80,249.45) rotate(-90) scale(1.0119,1)" font-size="33.8" stroke="#000" stroke-width="0.845">rate</text> <text transform="translate(1381.80,179.47) rotate(-90) scale(1.0348,1)" font-size="33.8" stroke="#000" stroke-width="0.835">fraction</text></g>
</svg>
</body>
</html>
